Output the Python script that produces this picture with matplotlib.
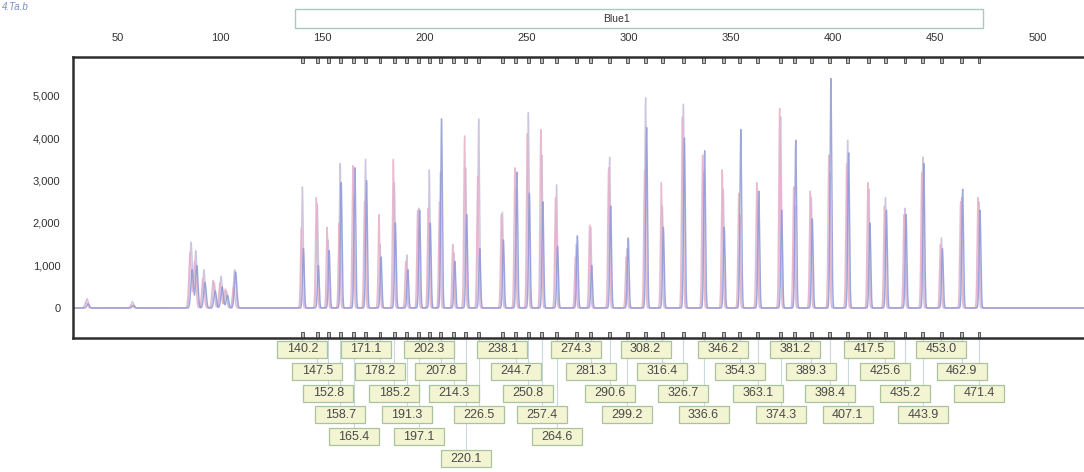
import numpy as np
import matplotlib
matplotlib.use("Agg")
import matplotlib.pyplot as plt
from matplotlib.patches import Rectangle
from matplotlib.transforms import blended_transform_factory
from matplotlib.ticker import FuncFormatter

plt.rcParams['font.family'] = ['Liberation Sans', 'DejaVu Sans']

# Sized fragments (bp) and peak heights (RFU) for the three overlaid traces
sizes = [140.2, 147.5, 152.8, 158.7, 165.4, 171.1, 178.2, 185.2, 191.3, 197.1,
         202.3, 207.8, 214.3, 220.1, 226.5, 238.1, 244.7, 250.8, 257.4, 264.6,
         274.3, 281.3, 290.6, 299.2, 308.2, 316.4, 326.7, 336.6, 346.2, 354.3,
         363.1, 374.3, 381.2, 389.3, 398.4, 407.1, 417.5, 425.6, 435.2, 443.9,
         453.0, 462.9, 471.4]
pink = [1900, 2600, 1900, 2000, 3350, 2500, 2200, 3500, 1100, 2300,
        2350, 2500, 1500, 4050, 3100, 2200, 3300, 4100, 4200, 2600,
        1200, 1950, 3300, 1200, 3250, 2950, 4500, 3600, 3250, 2700,
        2950, 4700, 2850, 2750, 3600, 3400, 2950, 2400, 2200, 3200,
        1500, 2500, 2600]
lavender = [2850, 2450, 1600, 3400, 2600, 3500, 1500, 2950, 1250, 2350,
            3250, 3200, 1300, 3300, 4450, 2250, 2800, 4600, 3600, 2900,
            1500, 1900, 3550, 1400, 4950, 2400, 4800, 3200, 2800, 2200,
            2500, 4500, 2400, 2600, 3200, 3950, 2800, 2600, 2350, 3550,
            1650, 2600, 2500]
blue = [1400, 1000, 1350, 2950, 3300, 3000, 1200, 2000, 900, 2300,
        2000, 4450, 1100, 2200, 1400, 1600, 3200, 2700, 2500, 1450,
        1700, 1000, 2400, 1650, 4250, 1900, 4000, 3700, 1900, 4200,
        2750, 2300, 3950, 2100, 5400, 3650, 2000, 2300, 2200, 3400,
        1400, 2800, 2300]

# Unlabelled early peaks (primer / artefact region)
extra_sizes = [34.8, 57.0, 85.7, 88.0, 92.0, 97.0, 100.4, 103.0, 107.0]
extra_pink = [150, 80, 1300, 1100, 700, 650, 600, 450, 500]
extra_lavender = [220, 150, 1550, 1350, 900, 600, 750, 400, 900]
extra_blue = [100, 60, 900, 1000, 600, 400, 500, 300, 850]

x_ticks = [50, 100, 150, 200, 250, 300, 350, 400, 450, 500]
y_ticks = [0, 1000, 2000, 3000, 4000, 5000]
dye_name = "Blue1"

W, H = 1084, 472
fig = plt.figure(figsize=(W / 100, H / 100), dpi=100)
ax = fig.add_axes([73 / W, 1 - 338 / H, 1 - 73 / W, (338 - 57) / H])

xs = np.linspace(27.9, 522.8, 24000)


def trace(centres, heights, shift, sigma):
    y = np.zeros_like(xs)
    for c, h in zip(centres, heights):
        y += h * np.exp(-0.5 * ((xs - c - shift) / sigma) ** 2)
    return y


series = [
    (lavender, extra_lavender, '#c6bcdc', 0.0),
    (pink, extra_pink, '#e6b0c7', -0.5),
    (blue, extra_blue, '#8e98d8', 0.5),
]
for main_h, extra_h, col, sh in series:
    y = trace(sizes, main_h, sh, 0.42) + trace(extra_sizes, extra_h, sh, 0.6)
    ax.plot(xs, y, color=col, lw=1.0, alpha=0.85)

ax.set_xlim(27.9, 522.8)
ax.set_ylim(-706, 5906)

ax.xaxis.tick_top()
ax.set_xticks(x_ticks)
ax.set_yticks(y_ticks)
ax.yaxis.set_major_formatter(FuncFormatter(lambda v, p: f"{v:,.0f}"))
ax.tick_params(axis='x', length=0, pad=10, labelsize=8, labelcolor='#333333')
ax.tick_params(axis='y', length=0, pad=9, labelsize=8, labelcolor='#333333')

for side in ('left', 'top', 'bottom'):
    ax.spines[side].set_color('#2e2e2e')
    ax.spines[side].set_linewidth(1.8)
ax.spines['right'].set_visible(False)

# Bin markers along the top and bottom edges
mix = blended_transform_factory(ax.transData, ax.transAxes)
for s in sizes:
    for y0 in (1 - 0.022, 0.0):
        ax.add_patch(Rectangle((s - 0.7, y0), 1.4, 0.022, transform=mix,
                               facecolor='#bdbdbd', edgecolor='#555555',
                               lw=0.7, clip_on=False))

# Size labels stacked into rows so they do not overlap
min_gap = 28.95
box_w = 24.5
box_h = 17 / 281
row_y0 = -11.5 / 281
row_step = 21.8 / 281
row_last = []
for s in sizes:
    r = 0
    while r < len(row_last) and s - row_last[r] <= min_gap:
        r += 1
    if r == len(row_last):
        row_last.append(s)
    else:
        row_last[r] = s
    cy = row_y0 - r * row_step
    ax.plot([s, s], [0, cy + box_h / 2], transform=mix, color='#c9d9e3',
            lw=0.8, clip_on=False, zorder=1)
    ax.add_patch(Rectangle((s - box_w / 2, cy - box_h / 2), box_w, box_h,
                           transform=mix, facecolor='#f3f4d2',
                           edgecolor='#a9c39c', lw=0.9, clip_on=False, zorder=2))
    ax.text(s, cy, f"{s:.1f}", transform=mix, ha='center', va='center',
            fontsize=9, color='#4a4a4a', clip_on=False, zorder=3)

# Dye panel header
fig.patches.append(Rectangle((295 / W, 1 - 28 / H), 688 / W, 19 / H,
                             transform=fig.transFigure, facecolor='white',
                             edgecolor='#a9cbbf', lw=1.0))
fig.text(617 / W, 1 - 18.5 / H, dye_name, ha='center', va='center',
         fontsize=7.5, color='#333333')
fig.text(2 / W, 1 - 7 / H, "4.Ta.b", ha='left', va='center', fontsize=7,
         color='#7b8fd0', style='italic')

fig.savefig("out.png", dpi=100)
